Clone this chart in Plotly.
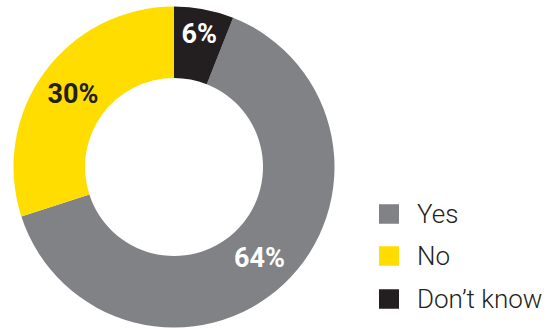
import plotly.graph_objects as go

# Survey answers
labels = ["Yes", "No", "Don’t know"]
values = [64, 30, 6]
colors = ["#808285", "#FFDD00", "#231F20"]
text_colors = ["#FFFFFF", "#231F20", "#FFFFFF"]

W, H = 548, 329

# Donut geometry in pixels
cx, cy, r = 174, 167, 160.5
hole = 89 / r

fig = go.Figure(
    go.Pie(
        labels=labels,
        values=values,
        sort=False,
        direction="clockwise",
        rotation=values[-1] / sum(values) * 360,
        hole=hole,
        marker=dict(colors=colors, line=dict(width=0)),
        texttemplate="%{value}%",
        textposition="inside",
        insidetextorientation="horizontal",
        textfont=dict(family="Roboto", size=27, color=text_colors, weight="bold"),
        domain=dict(
            x=[(cx - r) / W, (cx + r) / W],
            y=[(H - cy - r) / H, (H - cy + r) / H],
        ),
        showlegend=False,
        hoverinfo="label+percent",
    )
)

# Legend: colour swatch plus label for each answer
sq_x0, sq_x1, sq_h = 379, 399, 19.5
text_x = 415
row_y = [214, 256, 299]
for lab, col, yc in zip(labels, colors, row_y):
    fig.add_shape(
        type="rect",
        xref="paper", yref="paper",
        x0=sq_x0 / W, x1=sq_x1 / W,
        y0=(H - yc - sq_h / 2) / H, y1=(H - yc + sq_h / 2) / H,
        fillcolor=col, line=dict(width=0),
    )
    fig.add_annotation(
        xref="paper", yref="paper",
        x=text_x / W, y=(H - yc) / H,
        xanchor="left", yanchor="middle",
        text=lab, showarrow=False,
        font=dict(family="Roboto", size=26, color="#231F20", weight=300),
    )

fig.update_layout(
    width=W, height=H,
    margin=dict(l=0, r=0, t=0, b=0),
    paper_bgcolor="white",
    plot_bgcolor="white",
)

fig.write_html("out.html")
